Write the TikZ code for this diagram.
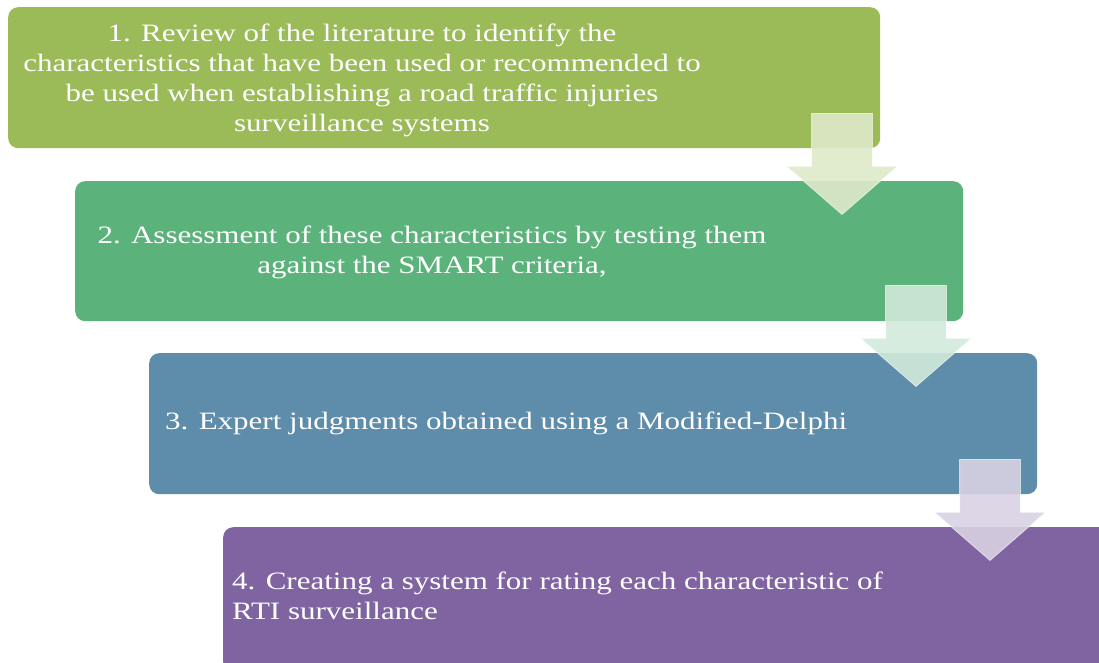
\documentclass[tikz,border=0pt]{standalone}
\usepackage{fontspec}
\setmainfont{Liberation Serif}
\newfontfamily\stagefont{Liberation Serif}[FakeStretch=1.24]
\usetikzlibrary{shapes.arrows}
\definecolor{stepOlive}{RGB}{155,187,89}
\definecolor{stepGreen}{RGB}{91,179,123}
\definecolor{stepBlue}{RGB}{94,140,171}
\definecolor{stepPurple}{RGB}{128,100,162}

\begin{document}
\begin{tikzpicture}[x=1pt,y=-1pt,
      stagebox/.style={rounded corners=10pt, minimum height=141pt, inner sep=0pt, anchor=north west},
      stagetext/.style={text=white, font=\stagefont\fontsize{25}{30}\selectfont, inner sep=0pt},
      downarrow/.style={single arrow, rotate=-90, anchor=tip, minimum height=101pt,
        inner xsep=0pt, inner ysep=30pt, single arrow head extend=25pt, single arrow tip angle=98,
        fill opacity=0.9, draw=white, draw opacity=0.6, line width=0.8pt}
    ]
      \useasboundingbox (0,0) rectangle (1099,663);
      % stage boxes
      \node[stagebox,fill=stepOlive,minimum width=872pt] (review) at (8,7) {};
      \node[stagebox,fill=stepGreen,minimum width=888pt,minimum height=140pt] (assess) at (75,181) {};
      \node[stagebox,fill=stepBlue,minimum width=888pt] (expert) at (149,353) {};
      \node[stagebox,fill=stepPurple,minimum width=890pt,minimum height=145pt] (rating) at (223,527) {};
      % arrows between stages
      \node[downarrow,fill=stepOlive!33!white] (arrowA) at (842,215) {};
      \node[downarrow,fill=stepGreen!28!white] (arrowB) at (916,387) {};
      \node[downarrow,fill=stepPurple!30!white] (arrowC) at (990,561) {};
      % texts
      \node[stagetext,align=center] (reviewtxt) at (362,80) {1. Review of the literature to identify the\\characteristics that have been used or recommended to\\be used when establishing a road traffic injuries\\surveillance systems};
      \node[stagetext,align=center] (assesstxt) at (432,252) {2. Assessment of these characteristics by testing them\\against the SMART criteria,};
      \node[stagetext,anchor=west] (experttxt) at (165,423) {3. Expert judgments obtained using a Modified-Delphi};
      \node[stagetext,align=left,anchor=west] (ratingtxt) at (232,596) {4. Creating a system for rating each characteristic of\\RTI surveillance};
    \end{tikzpicture}
\end{document}
